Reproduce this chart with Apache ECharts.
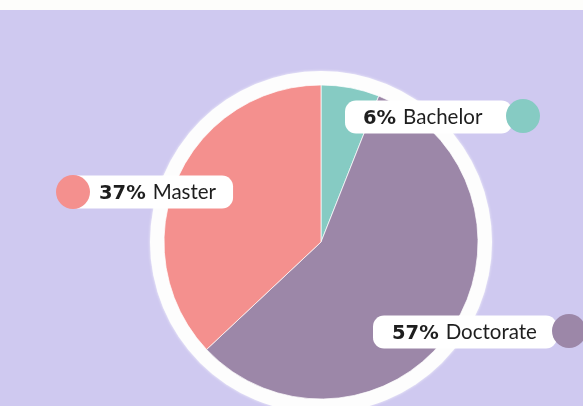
<!DOCTYPE html>
<html>
<head>
<meta charset="utf-8">
<script src="https://cdn.jsdelivr.net/npm/echarts@6/dist/echarts.min.js"></script>
<style>
  html, body { margin: 0; padding: 0; background: #cfc9f0; }
  #chart { width: 583px; height: 406px; }
</style>
</head>
<body>
<div id="chart"></div>
<script>
// data
const categories = ['Bachelor', 'Doctorate', 'Master'];
const shares = [6, 57, 37];
const colors = ['#86cbc3', '#9c87a8', '#f4908e'];

// label box anchors (left edge, vertical middle) and dot centres
const boxPos = [[345, 117], [373, 332], [66, 192]];
const boxPad = [[0, 30, 0, 18], [0, 20, 0, 19], [0, 17, 0, 33]];
const dotPos = [[523, 116], [569, 331], [73, 192]];

const chart = echarts.init(document.getElementById('chart'));

const center = [321, 242];

chart.setOption({
  backgroundColor: '#cfc9f0',
  graphic: [
    { type: 'rect', shape: { x: 0, y: 0, width: 583, height: 10 }, style: { fill: '#fdfdfb' }, silent: true }
  ],
  series: [
    {
      // white ring behind the pie
      type: 'pie',
      center: center,
      radius: [0, 171],
      silent: true,
      z: 1,
      label: { show: false },
      itemStyle: { color: '#fdfdfd', shadowBlur: 3, shadowColor: 'rgba(255,255,255,0.8)' },
      data: [1]
    },
    {
      type: 'pie',
      center: center,
      radius: [0, 157],
      startAngle: 90,
      clockwise: true,
      z: 2,
      itemStyle: { borderColor: 'rgba(255,255,255,0.7)', borderWidth: 1 },
      labelLine: { show: false },
      label: {
        show: true,
        position: 'inside',
        overflow: 'none',
        backgroundColor: '#fff',
        borderRadius: 11,
        height: 33,
        lineHeight: 33,
        color: '#1e1e1e',
        rich: {
          pct: { fontFamily: 'DejaVu Sans', fontWeight: 'bold', fontSize: 19.5, color: '#1e1e1e', lineHeight: 33, padding: [3, 0, 0, 0] },
          name: { fontFamily: 'Lato', fontSize: 20.5, color: '#1e1e1e', lineHeight: 33, padding: [0, 0, 0, 7] }
        },
        formatter: p => `{pct|${shares[p.dataIndex]}%}{name|${categories[p.dataIndex]}}`
      },
      labelLayout: p => ({
        x: boxPos[p.dataIndex][0],
        y: boxPos[p.dataIndex][1],
        align: 'left',
        verticalAlign: 'middle',
        moveOverlap: false
      }),
      data: categories.map((c, i) => ({
        name: c,
        value: shares[i],
        itemStyle: { color: colors[i] },
        label: { padding: boxPad[i] }
      }))
    },
    {
      // coloured dots at the end of each label
      type: 'pie',
      center: center,
      radius: [0, 157],
      startAngle: 90,
      silent: true,
      z: 3,
      itemStyle: { color: 'rgba(0,0,0,0)', borderWidth: 0 },
      emphasis: { disabled: true },
      labelLine: { show: false },
      label: {
        show: true,
        position: 'inside',
        formatter: p => `{d${p.dataIndex}|}`,
        rich: Object.fromEntries(colors.map((c, i) => ['d' + i, { width: 34, height: 34, borderRadius: 17, backgroundColor: c }]))
      },
      labelLayout: p => ({
        x: dotPos[p.dataIndex][0],
        y: dotPos[p.dataIndex][1],
        align: 'center',
        verticalAlign: 'middle',
        moveOverlap: false
      }),
      data: categories.map((c, i) => ({ name: c, value: shares[i] }))
    }
  ]
});
</script>
</body>
</html>
